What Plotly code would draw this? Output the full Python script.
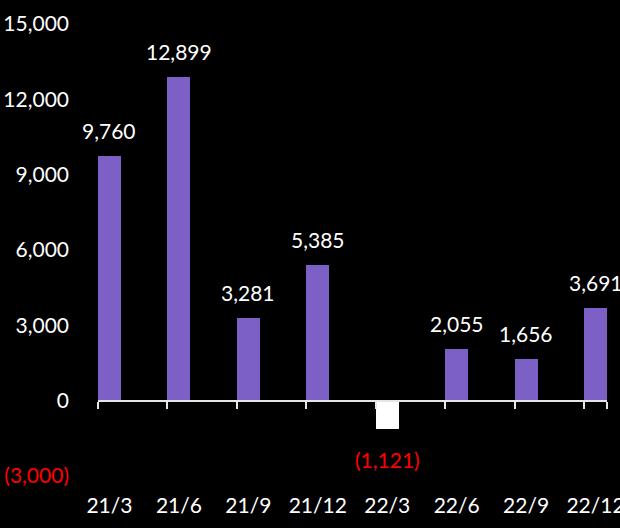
import plotly.graph_objects as go

categories = ["21/3", "21/6", "21/9", "21/12", "22/3", "22/6", "22/9", "22/12"]
values = [9760, 12899, 3281, 5385, -1121, 2055, 1656, 3691]
value_labels = ["9,760", "12,899", "3,281", "5,385", "(1,121)", "2,055", "1,656", "3,691"]
y_tickvals = [-3000, 0, 3000, 6000, 9000, 12000, 15000]
y_ticktext = ["<span style='color:#FF0000'>(3,000)</span>", "0", "3,000", "6,000", "9,000", "12,000", "15,000"]

PURPLE = "#7D60C6"
BAR_W = 0.33
slots = list(range(len(categories)))
centers = [i + BAR_W / 2 for i in slots]
colors = [PURPLE if v >= 0 else "#FFFFFF" for v in values]
FONT = "Lato, 'Noto Sans', sans-serif"
FS = 21

fig = go.Figure()
fig.add_trace(go.Bar(x=centers, y=values, width=BAR_W, marker=dict(color=colors, line=dict(width=0)),
                     hoverinfo="skip", showlegend=False))
# invisible trace for the zero-line axis
fig.add_trace(go.Scatter(x=[0], y=[0], xaxis="x2", mode="markers", marker=dict(opacity=0),
                         hoverinfo="skip", showlegend=False))

for c, v, t in zip(centers, values, value_labels):
    if v >= 0:
        fig.add_annotation(x=c, y=v, text=t, showarrow=False, yanchor="bottom", yshift=11,
                           font=dict(color="white", size=FS, family=FONT))
    else:
        fig.add_annotation(x=c, y=v, text=t, showarrow=False, yanchor="top", yshift=-16,
                           font=dict(color="#FF0000", size=FS, family=FONT))

xr = [0, len(categories) - 1 + BAR_W]
fig.update_layout(
    width=620, height=528,
    margin=dict(l=98, r=13, t=24, b=52, autoexpand=False),
    paper_bgcolor="black", plot_bgcolor="black",
    font=dict(family=FONT, size=FS, color="white"),
    bargap=0,
    xaxis=dict(range=xr, tickvals=centers, ticktext=categories, showline=False, showgrid=False,
               zeroline=False, ticks="", ticklabelstandoff=15, ticklabeloverflow="allow",
               automargin=False, tickfont=dict(size=FS, color="white")),
    xaxis2=dict(range=xr, overlaying="x", anchor="free", position=1/6, showline=True,
                linecolor="#E6E6E6", linewidth=2, ticks="outside", tickvals=slots + [xr[1]],
                ticklen=7, tickwidth=2, tickcolor="#E6E6E6", showticklabels=False,
                showgrid=False, zeroline=False, automargin=False),
    yaxis=dict(range=[-3000, 15000], tickvals=y_tickvals, ticktext=y_ticktext, showgrid=False,
               zeroline=False, showline=False, ticks="", ticklabelstandoff=28, automargin=False,
               tickfont=dict(size=FS, color="white")),
)

fig.write_html("out.html", config={"displayModeBar": False},
               post_script="document.body.style.margin='0px';document.body.style.background='black';")
